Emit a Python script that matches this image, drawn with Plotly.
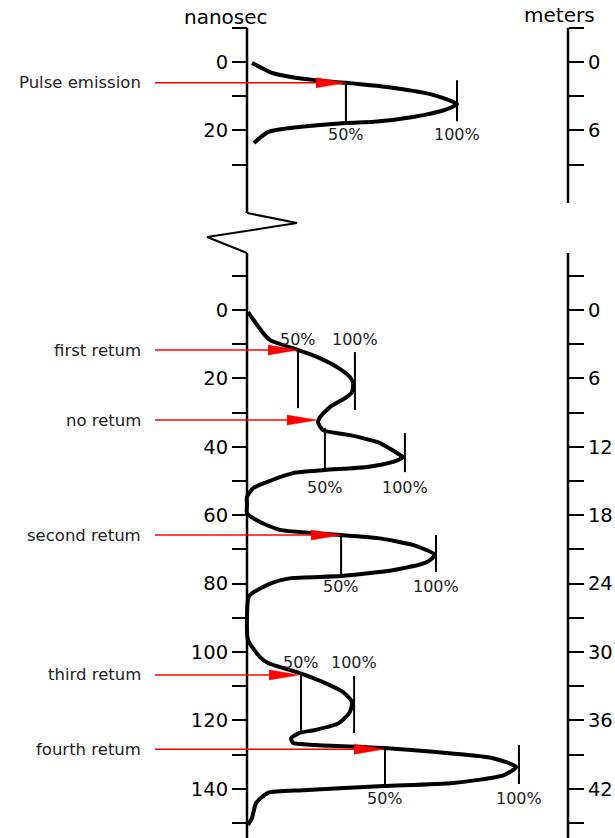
import plotly.graph_objects as go

# ---------------- data (time in ns, amplitude in relative units, pulse peak = 100) -------------
top_time = [0.3, 1.5, 3.2, 4.4, 5.3, 6.1, 7.6, 9.6, 12.3, 14.0, 16.1, 17.5, 17.8, 19.0, 20.5, 23.7]
top_amp = [2.4, 6.2, 11.9, 21.0, 32.4, 47.1, 70.0, 88.6, 100.0, 94.3, 79.0, 60.5, 47.1, 24.8, 10.0, 3.3]

bottom_time = [0.6, 6.7, 8.8, 11.7, 13.7, 16.7, 19.6, 21.4, 24.0, 25.4, 28.4, 31.3, 32.8, 35.1,
               36.6, 38.9, 41.8, 43.0, 44.4, 45.9, 46.8, 47.7, 50.3, 52.1, 54.7, 57.0, 59.4,
               62.0, 64.3, 65.2, 65.8, 66.7, 68.7, 71.6, 73.7, 76.0, 77.8, 78.4, 79.8, 83.6,
               90.0, 96.5, 101.5, 103.2, 106.1, 108.8, 111.7, 114.6, 117.5, 120.8, 122.8, 123.7,
               125.2, 126.6, 127.2, 128.1, 129.2, 131.0, 133.6, 136.0, 138.3, 139.2, 140.4,
               141.2, 144.2, 148.5, 150.6]
bottom_amp = [0.5, 7.6, 11.0, 24.3, 33.3, 42.9, 49.0, 50.5, 50.0, 47.6, 39.5, 34.8, 33.8, 36.2,
              49.0, 63.3, 71.4, 74.3, 69.5, 57.1, 37.1, 21.9, 9.5, 2.9, 0.0, 0.0, 0.0,
              6.2, 15.7, 30.5, 44.8, 62.4, 79.0, 89.5, 85.7, 70.0, 44.8, 21.0, 11.9, 1.0,
              0.0, 0.5, 6.2, 10.0, 24.8, 36.2, 45.7, 50.0, 49.0, 43.8, 32.4, 24.8,
              21.0, 21.9, 32.4, 65.2, 88.6, 116.7, 128.1, 122.4, 98.1, 65.2, 26.7,
              10.0, 4.3, 2.4, 0.5]

event_names = ["Pulse emission", "first retum", "no retum", "second retum", "third retum", "fourth retum"]
event_panel = ["top", "bottom", "bottom", "bottom", "bottom", "bottom"]
arrow_time = [6.1, 11.7, 32.2, 65.8, 106.7, 128.4]
arrow_amp = [47.1, 24.3, 33.3, 44.8, 24.8, 65.2]
half_amp = [47.1, 24.3, 37.1, 44.8, 25.7, 65.7]
half_t0 = [6.1, 11.7, 34.5, 65.8, 106.1, 128.1]
half_t1 = [17.8, 28.7, 47.1, 77.8, 123.7, 139.2]
peak_amp = [100.0, 51.4, 75.2, 90.0, 51.0, 129.5]
peak_t0 = [5.3, 12.3, 36.0, 65.8, 107.0, 127.2]
peak_t1 = [17.3, 29.2, 47.4, 76.6, 123.7, 138.6]
pct_label_time = [21.3, 8.5, 51.8, 80.8, 103.2, 142.7]

top_ticks_ns = [-10, 0, 10, 20, 30]
bottom_ticks_ns = list(range(-10, 160, 10))
NS_TO_M = 0.3

# ---------------- layout geometry ----------------
FIG_W, FIG_H = 615, 838
LEFT_AXIS_PX, RIGHT_AXIS_PX = 247, 568
TOP_ZERO_PX, BOTTOM_ZERO_PX = 62, 310
PX_PER_NS, PX_PER_AMP = 3.42, 2.1
OFFSET = (BOTTOM_ZERO_PX - TOP_ZERO_PX) / PX_PER_NS  # bottom panel shift in plot coordinates

x_range = [-LEFT_AXIS_PX / PX_PER_AMP, (FIG_W - LEFT_AXIS_PX) / PX_PER_AMP]
y_range = [(FIG_H - TOP_ZERO_PX) / PX_PER_NS, -TOP_ZERO_PX / PX_PER_NS]


def py(t, panel):
    return t + (OFFSET if panel == "bottom" else 0.0)


FONT = "DejaVu Sans"
fig = go.Figure()

# axis lines (broken)
top_axis_end = 44.15
zig_t = [44.15, 47.08, 51.17, 55.85]
zig_a = [0, 23.8, -19.0, 0]
bottom_axis_start = 55.85
fig.add_trace(go.Scatter(x=[0, 0], y=[-10, top_axis_end], mode="lines",
                         line=dict(color="black", width=2.5), hoverinfo="skip", showlegend=False))
fig.add_trace(go.Scatter(x=zig_a, y=zig_t, mode="lines",
                         line=dict(color="black", width=2), hoverinfo="skip", showlegend=False))
fig.add_trace(go.Scatter(x=[0, 0], y=[bottom_axis_start, y_range[0] + 5], mode="lines",
                         line=dict(color="black", width=2.5), hoverinfo="skip", showlegend=False))

# right axis lines (on yaxis2)
right_x = (RIGHT_AXIS_PX - LEFT_AXIS_PX) / PX_PER_AMP
fig.add_trace(go.Scatter(x=[right_x, right_x], y=[-10, 41.2], mode="lines", yaxis="y2",
                         line=dict(color="black", width=2.5), hoverinfo="skip", showlegend=False))
fig.add_trace(go.Scatter(x=[right_x, right_x], y=[bottom_axis_start, y_range[0] + 5], mode="lines",
                         yaxis="y2", line=dict(color="black", width=2.5), hoverinfo="skip",
                         showlegend=False))

# waveforms
fig.add_trace(go.Scatter(x=top_amp, y=[py(t, "top") for t in top_time], mode="lines",
                         line=dict(color="black", width=4, shape="spline", smoothing=0.6),
                         hoverinfo="skip", showlegend=False))
fig.add_trace(go.Scatter(x=bottom_amp, y=[py(t, "bottom") for t in bottom_time], mode="lines",
                         line=dict(color="black", width=4, shape="spline", smoothing=0.6),
                         hoverinfo="skip", showlegend=False))

ARROW_START = -43.8
LABEL_X = -49.5
HEAD_LEN = 30 / PX_PER_AMP
HEAD_HALF = 5 / PX_PER_NS

for i, name in enumerate(event_names):
    p = event_panel[i]
    ya = py(arrow_time[i], p)
    # 50% and 100% marker lines
    fig.add_trace(go.Scatter(x=[half_amp[i], half_amp[i]], y=[py(half_t0[i], p), py(half_t1[i], p)],
                             mode="lines", line=dict(color="black", width=2),
                             hoverinfo="skip", showlegend=False))
    fig.add_trace(go.Scatter(x=[peak_amp[i], peak_amp[i]], y=[py(peak_t0[i], p), py(peak_t1[i], p)],
                             mode="lines", line=dict(color="black", width=2),
                             hoverinfo="skip", showlegend=False))
    # red arrow
    fig.add_trace(go.Scatter(x=[ARROW_START, arrow_amp[i] - HEAD_LEN * 0.8], y=[ya, ya], mode="lines",
                             line=dict(color="#ff0000", width=1.5), hoverinfo="skip", showlegend=False))
    fig.add_trace(go.Scatter(x=[arrow_amp[i] - HEAD_LEN, arrow_amp[i], arrow_amp[i] - HEAD_LEN],
                             y=[ya - HEAD_HALF, ya, ya + HEAD_HALF], mode="lines", fill="toself",
                             fillcolor="#ff0000", line=dict(color="#ff0000", width=0.5),
                             hoverinfo="skip", showlegend=False))
    # labels
    fig.add_annotation(x=LABEL_X, y=ya, text=name, showarrow=False, xanchor="right",
                       yanchor="middle", font=dict(family=FONT, size=16.5, color="#222222"))
    yl = py(pct_label_time[i], p)
    fig.add_annotation(x=half_amp[i], y=yl, text="50%", showarrow=False, xanchor="center",
                       yanchor="middle", font=dict(family=FONT, size=16, color="#222222"))
    fig.add_annotation(x=peak_amp[i], y=yl, text="100%", showarrow=False, xanchor="center",
                       yanchor="middle", font=dict(family=FONT, size=16, color="#222222"))

# axis titles
fig.add_annotation(x=-10, y=-13.2, text="nanosec", showarrow=False, xanchor="center", yanchor="middle",
                   font=dict(family=FONT, size=20, color="black"))
fig.add_annotation(x=right_x - 4, y=-13.8, text="meters", showarrow=False, xanchor="center",
                   yanchor="middle", font=dict(family=FONT, size=20, color="black"))

tickvals = [py(t, "top") for t in top_ticks_ns] + [py(t, "bottom") for t in bottom_ticks_ns]
all_ns = top_ticks_ns + bottom_ticks_ns
left_text = [str(t) if (t >= 0 and t % 20 == 0) else "" for t in all_ns]
right_text = [f"{t * NS_TO_M:.0f}" if (t >= 0 and t % 20 == 0) else "" for t in all_ns]

axis_common = dict(range=y_range, showgrid=False, zeroline=False, showline=False, ticks="outside",
                   ticklen=15, tickwidth=2, tickcolor="black", tickmode="array", tickvals=tickvals,
                   tickfont=dict(family=FONT, size=19.5, color="black"), anchor="free", fixedrange=True)

fig.update_layout(
    width=FIG_W, height=FIG_H, margin=dict(l=0, r=0, t=0, b=0),
    paper_bgcolor="white", plot_bgcolor="white", showlegend=False,
    xaxis=dict(range=x_range, visible=False, fixedrange=True),
    yaxis=dict(**axis_common, ticktext=left_text, position=LEFT_AXIS_PX / FIG_W, side="left"),
    yaxis2=dict(**axis_common, ticktext=right_text, position=RIGHT_AXIS_PX / FIG_W, side="right",
                overlaying="y"),
)

fig.write_html("out.html", config={"displayModeBar": False})

# remove the browser's default page margin so the figure sits at the window origin
with open("out.html", "r", encoding="utf-8") as f:
    html = f.read()
html = html.replace("<head>", "<head><style>html,body{margin:0;padding:0;overflow:hidden;}</style>", 1)
with open("out.html", "w", encoding="utf-8") as f:
    f.write(html)
